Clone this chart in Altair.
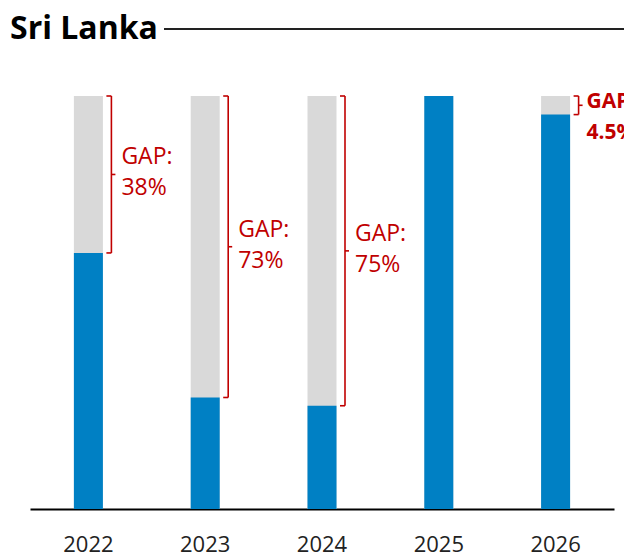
import altair as alt
import pandas as pd

years = ["2022", "2023", "2024", "2025", "2026"]
funded = [62, 27, 25, 100, 95.5]
gaps = [38, 73, 75, 0, 4.5]
gap_text = ["38%", "73%", "75%", "", "4.5%"]
title_text = ["Sri Lanka"]

df = pd.DataFrame({"year": years, "funded": funded, "gap": gaps, "gap_text": gap_text})

BLUE = "#0080c4"
GRAY = "#d9d9d9"
RED = "#c00000"
FONT = "Open Sans"

x_enc = alt.X("year:N", title=None,
              scale=alt.Scale(paddingInner=0, paddingOuter=0),
              axis=alt.Axis(labelAngle=0, ticks=False, domain=True, domainColor="#000",
                            domainWidth=2, labelFont=FONT, labelFontSize=22,
                            labelColor="#222", labelPadding=25, grid=False))
y_scale = alt.Scale(domain=[0, 100], nice=False)

base = alt.Chart(df).transform_calculate(
    total="100",
    mid="(100 + datum.funded) / 2",
    label="['GAP:', datum.gap_text]",
)

gray = base.mark_bar(width=29, color=GRAY).encode(
    x=x_enc,
    y=alt.Y("total:Q", scale=y_scale, axis=None),
)
blue = base.mark_bar(width=29, color=BLUE).encode(
    x=x_enc,
    y=alt.Y("funded:Q", scale=y_scale, axis=None),
)

has_gap = base.transform_filter("datum.gap > 0")

SW = 1.6
vert = has_gap.mark_rule(color=RED, strokeWidth=SW, xOffset=23).encode(
    x="year:N", y=alt.Y("funded:Q", scale=y_scale), y2="total:Q")
top_hook = has_gap.mark_rule(color=RED, strokeWidth=SW, xOffset=18, x2Offset=23).encode(
    x="year:N", x2="year:N", y=alt.Y("total:Q", scale=y_scale))
bot_hook = has_gap.mark_rule(color=RED, strokeWidth=SW, xOffset=18, x2Offset=23).encode(
    x="year:N", x2="year:N", y=alt.Y("funded:Q", scale=y_scale))
tip = has_gap.mark_rule(color=RED, strokeWidth=SW, xOffset=23, x2Offset=27).encode(
    x="year:N", x2="year:N", y=alt.Y("mid:Q", scale=y_scale))

labels_big = has_gap.transform_filter("datum.gap >= 10").mark_text(
    align="left", baseline="middle", dx=33, dy=-17, font=FONT, fontSize=23,
    lineHeight=31, color=RED).encode(
    x="year:N", y=alt.Y("mid:Q", scale=y_scale), text="label:N")

labels_small = has_gap.transform_filter("datum.gap < 10").mark_text(
    align="left", baseline="top", dx=31, dy=-5, font=FONT, fontSize=21,
    fontWeight="bold", lineHeight=31, color=RED).encode(
    x="year:N", y=alt.Y("total:Q", scale=y_scale), text="label:N")

title_df = pd.DataFrame({"t": title_text})
title_mark = alt.Chart(title_df).mark_text(
    align="left", baseline="alphabetic", font=FONT, fontSize=32, fontWeight="bold",
    color="#000").encode(x=alt.value(-20), y=alt.value(-57), text="t:N")

title_line = alt.Chart(title_df).mark_rule(color="#222", strokeWidth=2).encode(
    x=alt.value(134), x2=alt.value(620), y=alt.value(-67))

chart = alt.layer(
    gray, blue, vert, top_hook, bot_hook, tip, labels_big, labels_small,
    title_line, title_mark
).properties(
    width=584, height=413,
    autosize=alt.AutoSizeParams(type="none"),
    padding={"left": 22, "top": 88, "right": 10, "bottom": 47},
).configure_view(stroke=None)

chart.save("out.html", embed_options={"renderer": "svg", "actions": False})
